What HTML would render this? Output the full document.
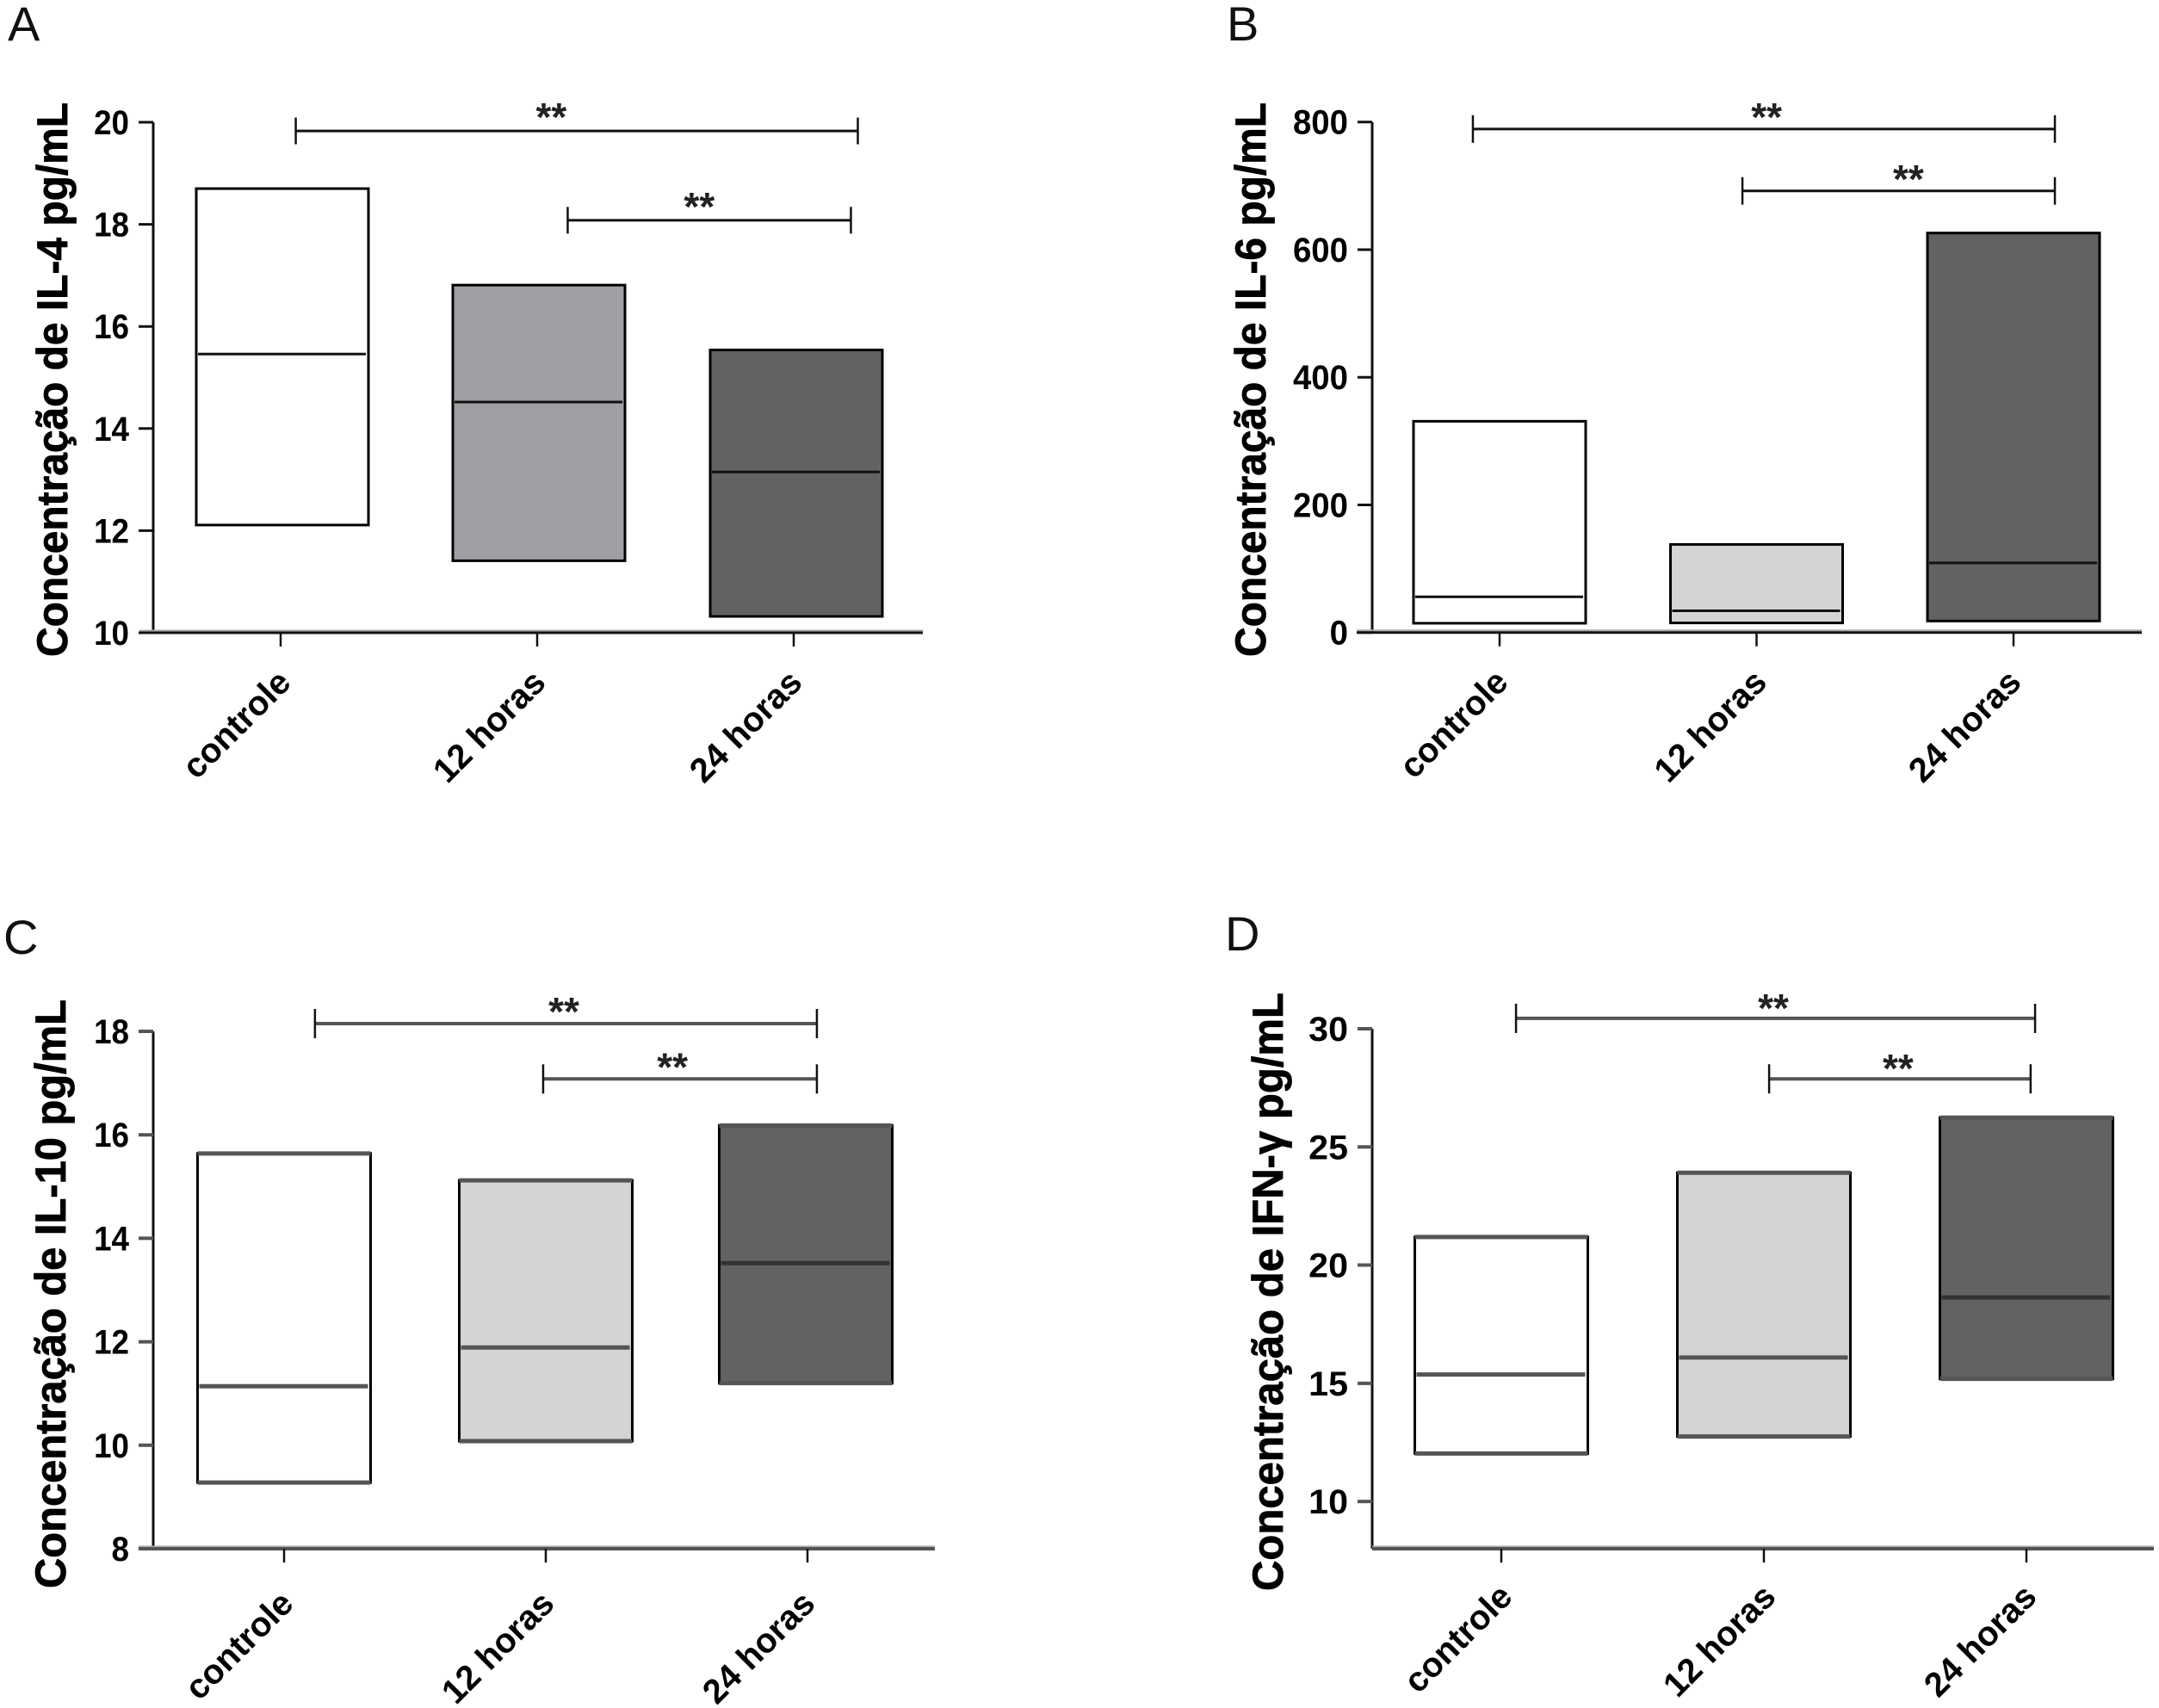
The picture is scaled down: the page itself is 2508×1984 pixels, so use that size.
<!DOCTYPE html>
<html lang="pt">
<head>
<meta charset="utf-8">
<title>Concentração de citocinas</title>
<style>
html,body{margin:0;padding:0;background:#fff;width:2508px;height:1984px;overflow:hidden}
svg{display:block}
text{font-family:"Liberation Sans",sans-serif;fill:#000}
.ttl{font-weight:bold;font-size:50px;stroke:#000;stroke-width:.8px}
.ltr{font-size:56px;fill:#111}
.tick{font-weight:bold;font-size:40px}
.cat{font-weight:bold;font-size:40px}
.star{font-weight:bold;font-size:46px;fill:#222}
</style>
</head>
<body>
<svg id="figure" xmlns="http://www.w3.org/2000/svg" width="2508" height="1984" viewBox="0 0 2508 1984">
  <rect x="0" y="0" width="2508" height="1984" fill="#fff"/>
  <text class="ltr" x="9" y="47">A</text>
  <text class="ltr" x="1425" y="47">B</text>
  <text class="ltr" x="4" y="1108">C</text>
  <text class="ltr" x="1423" y="1104">D</text>
  <text class="ttl" transform="translate(78,763) rotate(-90)" textLength="644" lengthAdjust="spacingAndGlyphs">Concentração de IL-4 pg/mL</text>
  <text class="ttl" transform="translate(1470,763) rotate(-90)" textLength="644" lengthAdjust="spacingAndGlyphs">Concentração de IL-6 pg/mL</text>
  <text class="ttl" transform="translate(76,1845) rotate(-90)" textLength="684" lengthAdjust="spacingAndGlyphs">Concentração de IL-10 pg/mL</text>
  <text class="ttl" transform="translate(1490,1848) rotate(-90)" textLength="695" lengthAdjust="spacingAndGlyphs">Concentração de IFN-γ pg/mL</text>
</svg>
<script>
// Shared categories
const categories = ["controle", "12 horas", "24 horas"];

// Panel A: IL-4
const lowerA = [12.11, 11.41, 10.32];
const medianA = [15.46, 14.52, 13.15];
const upperA = [18.70, 16.81, 15.54];
const ticksA = [10, 12, 14, 16, 18, 20];
const bracketFromA = [0.059, 1.119];
const bracketToA = [2.250, 2.223];
const bracketLevelA = [19.83, 18.08];
const bracketStarA = [1.055, 1.632];

// Panel B: IL-6
const lowerB = [14.5, 15, 18];
const medianB = [56, 34, 109];
const upperB = [331, 138, 626];
const ticksB = [0, 200, 400, 600, 800];
const bracketFromB = [-0.104, 0.945];
const bracketToB = [2.161, 2.161];
const bracketLevelB = [789, 692];
const bracketStarB = [1.039, 1.591];

// Panel C: IL-10
const lowerC = [9.28, 10.08, 11.2];
const medianC = [11.14, 11.89, 13.52];
const upperC = [15.64, 15.12, 16.18];
const ticksC = [8, 10, 12, 14, 16, 18];
const bracketFromC = [0.118, 0.990];
const bracketToC = [2.036, 2.036];
const bracketLevelC = [18.15, 17.08];
const bracketStarC = [1.069, 1.484];

// Panel D: IFN-gamma
const lowerD = [12.03, 12.75, 15.19];
const medianD = [15.37, 16.09, 18.63];
const upperD = [21.19, 23.91, 26.24];
const ticksD = [10, 15, 20, 25, 30];
const bracketFromD = [0.056, 1.02];
const bracketToD = [2.033, 2.016];
const bracketLevelD = [30.44, 27.88];
const bracketStarD = [1.036, 1.511];

const NS = "http://www.w3.org/2000/svg";
const fig = document.getElementById("figure");

function make(parent, tag, attrs, txt) {
  const el = document.createElementNS(NS, tag);
  for (const k in attrs) el.setAttribute(k, attrs[k]);
  if (txt !== undefined) el.textContent = txt;
  parent.appendChild(el);
  return el;
}

function drawPanel(p) {
  const g = make(fig, "g", {});
  
  
  const yPos = v => p.yBottom - (v - p.yMin) * (p.yBottom - p.yTop) / (p.yMax - p.yMin);
  const xPos = i => p.x0 + i * p.step;

  // boxes
  categories.forEach((c, i) => {
    const top = yPos(p.upper[i]), bot = yPos(p.lower[i]), med = yPos(p.median[i]);
    const left = xPos(i) - p.boxW / 2 + p.boxShift[i];
    const box = make(g, "rect", {x: left, y: top, width: p.boxW, height: bot - top, fill: p.fills[i], stroke: "#000", "stroke-width": 3});
    
    
    const mid = make(g, "line", {x1: left + 2, x2: left + p.boxW - 3, y1: med, y2: med, stroke: p.medColor[i], "stroke-width": p.medW});
    
    
    if (p.edgeW > 3) {
      [top, bot].forEach(yy => {
        const edge = make(g, "line", {x1: left, x2: left + p.boxW, y1: yy, y2: yy, stroke: p.lineColor, "stroke-width": p.edgeW});
        
        
      });
    }
  });

  // y axis
  const ya = make(g, "line", {x1: p.axisX, x2: p.axisX, y1: yPos(p.yMax), y2: p.yBottom, stroke: "#111", "stroke-width": 3});
  
  
  p.ticks.forEach(t => {
    const ty = yPos(t);
    const tk = make(g, "line", {x1: p.axisX - 17, x2: p.axisX, y1: ty, y2: ty, stroke: p.lineColor, "stroke-width": p.tickW});
    
    
    const lb = make(g, "text", {class: "tick", "text-anchor": "end", transform: "translate(" + p.labelX + "," + (ty + 14) + ") scale(" + p.digitScale + ",1)"}, String(t));
    
    
  });

  // x axis
  const halo = make(g, "line", {x1: p.xAxisStart, x2: p.xAxisEnd, y1: p.yBottom - 2.5, y2: p.yBottom - 2.5, stroke: "#aaa", "stroke-width": 2});
  
  
  const xa = make(g, "line", {x1: p.xAxisStart, x2: p.xAxisEnd, y1: p.yBottom, y2: p.yBottom, stroke: p.lineColor, "stroke-width": p.xAxisW});
  
  
  categories.forEach((c, i) => {
    const tx = xPos(i);
    const tk = make(g, "line", {x1: tx, x2: tx, y1: p.yBottom, y2: p.yBottom + 16, stroke: "#111", "stroke-width": 2.5});
    
    
    const lb = make(g, "text", {class: "cat", "text-anchor": "end", transform: "translate(" + (tx + p.catDx[i]) + "," + (p.yBottom + p.catDy) + ") rotate(-45)"}, c);
    
    
  });

  // significance brackets
  p.bracketFrom.forEach((f, i) => {
    const x1 = xPos(f), x2 = xPos(p.bracketTo[i]), yy = yPos(p.bracketLevel[i]);
    const bar = make(g, "line", {x1: x1, x2: x2, y1: yy, y2: yy, stroke: p.lineColor, "stroke-width": p.tickW});
    
    
    [x1, x2].forEach(cx => {
      const cap = make(g, "line", {x1: cx, x2: cx, y1: yy - p.capH, y2: yy + p.capH, stroke: "#111", "stroke-width": 2.5});
      
      
    });
    const st = make(g, "text", {class: "star", "text-anchor": "middle", x: xPos(p.bracketStar[i]), y: yy + p.starDy}, "**");
    
    
  });
}

const WHITE = "#ffffff", LIGHT = "#d4d4d4", MID = "#a0a0a4", DARK = "#626262";

drawPanel({id: "a", lower: lowerA, median: medianA, upper: upperA, ticks: ticksA,
  bracketFrom: bracketFromA, bracketTo: bracketToA, bracketLevel: bracketLevelA, bracketStar: bracketStarA,
  fills: [WHITE, MID, DARK], medColor: ["#111", "#111", "#111"], medW: 3, edgeW: 3, tickW: 3, lineColor: "#111",
  yMin: 10, yMax: 20, yTop: 142, yBottom: 735, axisX: 178, x0: 326, step: 298, boxW: 200,
  boxShift: [2, 2, 3], labelX: 150, digitScale: 0.92, xAxisStart: 162, xAxisEnd: 1072, xAxisW: 3,
  catDx: [14, 12, 12], catDy: 60, capH: 15.5, starDy: 0});

drawPanel({id: "b", lower: lowerB, median: medianB, upper: upperB, ticks: ticksB,
  bracketFrom: bracketFromB, bracketTo: bracketToB, bracketLevel: bracketLevelB, bracketStar: bracketStarB,
  fills: [WHITE, LIGHT, DARK], medColor: ["#111", "#111", "#111"], medW: 3, edgeW: 3, tickW: 3, lineColor: "#111",
  yMin: 0, yMax: 800, yTop: 141.7, yBottom: 734.7, axisX: 1594, x0: 1742, step: 298.5, boxW: 200,
  boxShift: [0, 0, 0], labelX: 1566, digitScale: 0.96, xAxisStart: 1576, xAxisEnd: 2488, xAxisW: 3,
  catDx: [12, 14, 11], catDy: 60, capH: 16, starDy: 2});

drawPanel({id: "c", lower: lowerC, median: medianC, upper: upperC, ticks: ticksC,
  bracketFrom: bracketFromC, bracketTo: bracketToC, bracketLevel: bracketLevelC, bracketStar: bracketStarC,
  fills: [WHITE, LIGHT, DARK], medColor: ["#555", "#555", "#333"], medW: 5, edgeW: 5, tickW: 4, lineColor: "#555",
  yMin: 8, yMax: 18, yTop: 1198, yBottom: 1799, axisX: 178, x0: 330, step: 304, boxW: 201,
  boxShift: [0, 0, -2], labelX: 150, digitScale: 0.92, xAxisStart: 161, xAxisEnd: 1086, xAxisW: 4,
  catDx: [13, 12, 11], catDy: 66, capH: 17, starDy: 2});

drawPanel({id: "d", lower: lowerD, median: medianD, upper: upperD, ticks: ticksD,
  bracketFrom: bracketFromD, bracketTo: bracketToD, bracketLevel: bracketLevelD, bracketStar: bracketStarD,
  fills: [WHITE, LIGHT, DARK], medColor: ["#555", "#555", "#333"], medW: 5, edgeW: 5, tickW: 4, lineColor: "#555",
  yMin: 8, yMax: 30, yTop: 1195, yBottom: 1799, axisX: 1594, x0: 1744, step: 305, boxW: 201,
  boxShift: [0, 0, 0], labelX: 1566, digitScale: 1.03, xAxisStart: 1594, xAxisEnd: 2502, xAxisW: 4,
  catDx: [15, 16, 14], catDy: 58, capH: 17, starDy: 4});
</script>
</body>
</html>
